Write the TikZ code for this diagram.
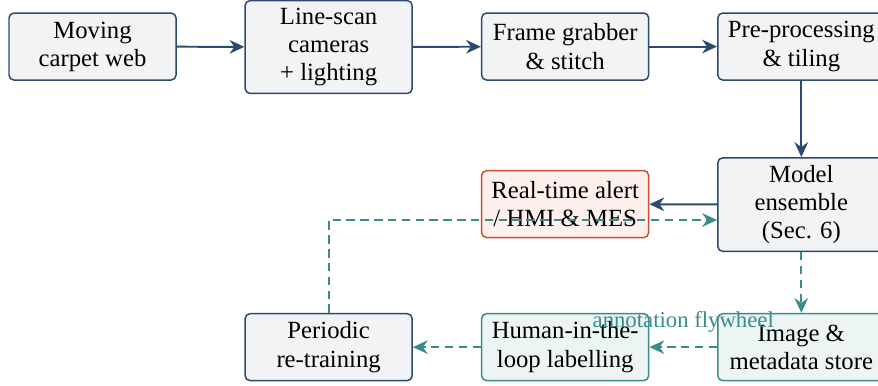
\documentclass[tikz,border=0pt]{standalone}
\usepackage{fontspec}
\setmainfont{Liberation Serif}
\usetikzlibrary{arrows.meta, positioning}

\definecolor{navyline}{HTML}{2B4A6F}
\definecolor{grayfill}{HTML}{F1F3F5}
\definecolor{tealline}{HTML}{3A8C88}
\definecolor{tealfill}{HTML}{EDF5F4}
\definecolor{alertline}{HTML}{C9502F}
\definecolor{alertfill}{HTML}{FCEFEC}

\begin{document}
\begin{tikzpicture}

    \tikzset
    {
        font={\fontsize{10pt}{11.4pt}\selectfont},
        box/.style={draw=navyline, fill=grayfill, rounded corners=2pt, line width=0.6pt, align=center, minimum width=2.376cm, minimum height=0.953cm, inner sep=3pt},
        storebox/.style={box, draw=tealline, fill=tealfill},
        alertbox/.style={box, draw=alertline, fill=alertfill},
        flow/.style={-{Stealth[length=6pt, width=5.5pt]}, draw=navyline, line width=0.8pt},
        loopflow/.style={-{Stealth[length=6pt, width=5.5pt]}, draw=tealline, line width=0.8pt, dash pattern=on 3.4pt off 2.2pt},
        looplabel/.style={text=tealline, font={\fontsize{9.2pt}{10pt}\selectfont}, inner sep=1pt}
    }

    \useasboundingbox (0,0) rectangle (12.49,-5.48);

    \pgfmathsetmacro{\colA}{1.316}
    \pgfmathsetmacro{\colB}{4.675}
    \pgfmathsetmacro{\colC}{8.040}
    \pgfmathsetmacro{\colD}{11.399}

    % top row
    \node[box] (web) at (\colA,-0.662) {Moving\\carpet web};
    \node[box] (cams) at (\colB,-0.669) {Line-scan\\cameras\\+ lighting};
    \node[box] (grab) at (\colC,-0.662) {Frame grabber\\\& stitch};
    \node[box] (prep) at (\colD,-0.662) {Pre-processing\\\& tiling};

    % middle row
    \node[box] (model) at (\colD,-2.910) {Model\\ensemble\\(Sec. 6)};
    \node[alertbox] (alert) at (\colC,-2.903) {Real-time alert\\/ HMI \& MES};

    % bottom row
    \node[box] (retrain) at (\colB,-4.938) {Periodic\\re-training};
    \node[storebox] (hitl) at (\colC,-4.938) {Human-in-the-\\loop labelling};
    \node[storebox] (store) at (\colD,-4.938) {Image \&\\metadata store};

    \draw[flow] (web) -- (cams);
    \draw[flow] (cams) -- (grab);
    \draw[flow] (grab) -- (prep);
    \draw[flow] (prep) -- (model);
    \draw[flow] (model) -- (alert);

    % annotation loop
    \draw[loopflow] (model) -- (store);
    \draw[loopflow] (store) -- node[above=4.5pt, looplabel]{annotation flywheel} (hitl);
    \draw[loopflow] (hitl) -- (retrain);
    \draw[loopflow] (retrain.north) |- ([yshift=-0.22cm]model.west);

\end{tikzpicture}
\end{document}
